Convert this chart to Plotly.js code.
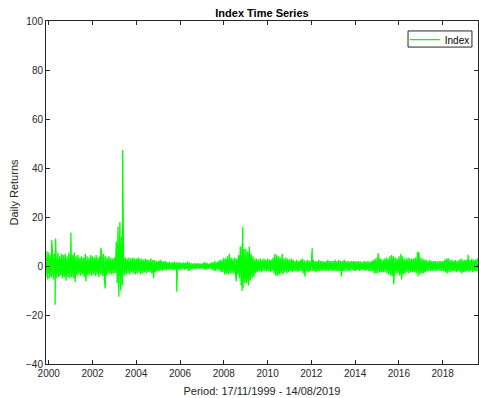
<!DOCTYPE html>
<html>
<head>
<meta charset="utf-8">
<script src="https://cdn.plot.ly/plotly-3.0.1.min.js"></script>
<style>
  html, body { margin: 0; padding: 0; background: #fff; }
  #chart { width: 479px; height: 398px; }
</style>
</head>
<body>
<div id="chart"></div>
<script>
// Monthly band (upper / lower daily-return envelope), Nov 1999 .. Aug 2019
const years = [1999,2000,2001,2002,2003,2004,2005,2006,2007,2008,2009,2010,2011,2012,2013,2014,2015,2016,2017,2018,2019];
const firstMonth = [11,1,1,1,1,1,1,1,1,1,1,1,1,1,1,1,1,1,1,1,1];

const bandHigh = [
  [5.5, 6.0],
  [5.5, 4.5, 6.0, 5.0, 4.5, 5.5, 4.0, 5.0, 4.5, 5.0, 4.0, 5.5],
  [5.0, 4.5, 5.5, 4.0, 4.5, 3.5, 4.0, 3.5, 5.0, 4.0, 3.5, 4.5],
  [4.0, 3.5, 4.5, 3.5, 4.0, 4.5, 5.0, 4.0, 3.5, 4.0, 3.5, 3.0],
  [3.5, 10.0, 16.0, 18.0, 12.0, 4.0, 3.5, 3.0, 3.5, 3.0, 3.5, 3.0],
  [3.0, 3.5, 3.0, 3.0, 2.5, 3.0, 2.5, 2.5, 3.0, 2.5, 2.5, 2.0],
  [2.0, 2.5, 2.0, 1.8, 2.0, 1.5, 1.8, 1.5, 1.5, 1.8, 1.5, 1.5],
  [1.5, 1.2, 1.5, 1.2, 1.8, 1.5, 1.2, 1.0, 1.2, 1.0, 1.2, 1.0],
  [1.0, 1.5, 1.5, 1.2, 1.0, 1.5, 1.5, 2.0, 1.5, 2.0, 2.5, 2.5],
  [3.5, 3.0, 4.0, 5.0, 3.5, 3.0, 3.5, 3.0, 4.5, 8.0, 9.0, 7.0],
  [7.0, 6.0, 8.0, 5.0, 4.0, 3.0, 3.0, 2.5, 3.0, 2.5, 3.0, 2.5],
  [3.0, 2.5, 2.5, 3.5, 5.0, 4.5, 4.0, 3.5, 5.0, 3.0, 3.5, 3.0],
  [2.5, 3.0, 2.5, 2.0, 2.5, 2.0, 2.5, 3.0, 2.5, 2.0, 2.5, 2.0],
  [2.0, 2.5, 2.0, 2.0, 2.5, 2.0, 2.0, 1.8, 2.0, 2.5, 2.0, 2.0],
  [2.0, 2.5, 2.0, 2.5, 2.0, 2.0, 2.5, 2.0, 2.0, 1.8, 2.0, 2.0],
  [2.0, 1.8, 2.0, 1.8, 1.5, 2.0, 1.8, 2.0, 1.8, 2.0, 2.5, 3.0],
  [3.5, 3.0, 3.0, 2.5, 3.0, 3.5, 3.0, 4.0, 4.5, 4.0, 3.5, 3.0],
  [4.0, 5.0, 4.0, 3.0, 3.0, 3.5, 3.0, 3.0, 3.0, 3.5, 4.0, 5.5],
  [3.5, 3.0, 2.5, 2.5, 2.0, 2.5, 2.0, 2.0, 2.0, 1.8, 2.0, 2.0],
  [2.0, 2.5, 3.0, 3.3, 2.5, 2.5, 2.0, 2.5, 2.0, 2.5, 3.0, 2.5],
  [2.5, 2.5, 4.6, 2.5, 3.0, 2.5, 2.5, 3.0]
];

const bandLow = [
  [-4.5, -5.5],
  [-5.0, -4.5, -5.5, -4.0, -5.0, -4.5, -4.0, -5.0, -4.5, -6.0, -4.5, -5.0],
  [-4.5, -5.0, -6.5, -4.0, -3.5, -4.0, -3.5, -4.5, -5.0, -4.0, -3.5, -4.0],
  [-3.5, -4.0, -3.5, -4.5, -3.5, -4.0, -5.5, -4.0, -3.5, -3.0, -3.5, -3.0],
  [-3.0, -7.0, -12.5, -10.0, -8.0, -4.0, -3.5, -3.0, -3.5, -2.5, -3.0, -3.5],
  [-3.0, -2.5, -3.5, -3.0, -2.5, -3.0, -2.5, -2.5, -3.0, -5.0, -2.5, -2.0],
  [-2.0, -1.8, -2.0, -1.5, -1.8, -1.5, -1.5, -1.5, -1.8, -1.5, -1.5, -1.5],
  [-1.5, -1.2, -1.5, -1.2, -2.0, -1.8, -1.2, -1.0, -1.2, -1.0, -1.2, -1.0],
  [-1.0, -1.5, -1.5, -1.2, -1.0, -1.5, -1.8, -2.0, -1.5, -1.8, -2.5, -2.5],
  [-3.5, -3.0, -3.5, -3.0, -3.0, -3.0, -4.0, -3.5, -5.0, -8.0, -9.0, -7.0],
  [-7.0, -8.0, -6.0, -5.0, -4.5, -3.0, -2.5, -2.0, -2.5, -2.0, -2.0, -2.0],
  [-2.0, -2.5, -2.0, -3.0, -4.0, -4.0, -3.5, -3.0, -3.5, -2.5, -3.0, -2.5],
  [-2.0, -2.5, -2.0, -2.0, -2.5, -2.0, -2.0, -3.0, -4.3, -2.0, -2.5, -2.0],
  [-2.0, -2.0, -2.5, -2.0, -2.0, -2.0, -1.8, -2.0, -2.0, -2.0, -1.5, -2.0],
  [-2.0, -2.0, -2.0, -2.0, -4.3, -2.0, -2.0, -1.8, -2.0, -1.8, -1.5, -2.0],
  [-2.0, -1.5, -2.0, -1.5, -1.5, -2.0, -1.8, -2.0, -2.0, -2.0, -3.0, -3.0],
  [-3.0, -2.5, -2.5, -2.5, -2.5, -3.0, -3.5, -4.0, -4.0, -3.5, -3.0, -3.0],
  [-4.0, -5.5, -3.5, -3.0, -2.5, -3.0, -2.5, -2.5, -2.5, -3.0, -4.3, -3.5],
  [-3.0, -3.0, -2.5, -2.0, -2.0, -2.0, -2.0, -1.8, -2.0, -1.8, -2.0, -2.0],
  [-2.0, -2.5, -3.0, -2.5, -2.5, -2.0, -2.0, -2.5, -2.0, -2.5, -3.0, -2.5],
  [-2.5, -2.0, -2.5, -2.0, -2.5, -2.0, -2.0, -2.5]
];

// Isolated spikes
const spikeDates = ['2000-02-20','2000-04-17','2000-04-25','2001-01-05','2001-09-14','2002-05-20','2002-08-01',
                    '2003-05-19','2005-11-08','2008-07-28','2008-11-03','2008-11-12','2012-01-16',
                    '2015-01-20','2015-10-06','2016-11-11'];
const spikeValues = [10.5, -15.8, 11.2, 13.6, -6.2, 7.5, -9.2,
                     47.3, -10.5, -6.2, -10.2, 15.9, 7.2,
                     5.2, -7.4, 5.8];

const xStart = '1999-11-17';
const xEnd = '2019-08-14';

// Build the series: each month contributes its high and low reading, spikes inserted in date order
function pad(n){ return (n < 10 ? '0' : '') + n; }
const pts = [];
years.forEach((yr, i) => {
  bandHigh[i].forEach((hv, j) => {
    const m = firstMonth[i] + j;
    pts.push([yr + '-' + pad(m) + '-03', hv]);
    pts.push([yr + '-' + pad(m) + '-17', bandLow[i][j]]);
  });
});
spikeDates.forEach((d, k) => pts.push([d, spikeValues[k]]));
pts.sort((a, b) => a[0] < b[0] ? -1 : (a[0] > b[0] ? 1 : 0));

const trace = {
  x: pts.map(p => p[0]),
  y: pts.map(p => p[1]),
  type: 'scatter',
  mode: 'lines',
  name: 'Index',
  line: { color: '#00ff00', width: 1.3, simplify: false }
};

const FONT = 'Liberation Sans, Arial, sans-serif';

const axisCommon = {
  showline: true,
  linecolor: '#262626',
  linewidth: 1,
  mirror: 'ticks',
  ticks: 'inside',
  ticklen: 4,
  tickcolor: '#262626',
  tickwidth: 1,
  showgrid: false,
  zeroline: false,
  tickfont: { family: FONT, size: 10, color: '#262626' }
};

const layout = {
  width: 479,
  height: 398,
  margin: { l: 46, r: 1, t: 21, b: 34 },
  paper_bgcolor: '#ffffff',
  plot_bgcolor: '#ffffff',
  title: {
    text: '<b>Index Time Series</b>',
    font: { family: FONT, size: 11, color: '#000000' },
    x: 0.5, xref: 'paper', xanchor: 'center',
    y: 1, yref: 'paper', yanchor: 'bottom', pad: { b: 4 }
  },
  xaxis: Object.assign({}, axisCommon, {
    type: 'date',
    range: [xStart, xEnd],
    tick0: '2000-01-01',
    dtick: 'M24',
    tickformat: '%Y',
    title: { text: 'Period: 17/11/1999 - 14/08/2019', standoff: 9,
             font: { family: FONT, size: 11, color: '#262626' } }
  }),
  yaxis: Object.assign({}, axisCommon, {
    range: [-40, 100],
    tick0: -40,
    dtick: 20,
    title: { text: 'Daily Returns', standoff: 5,
             font: { family: FONT, size: 11, color: '#262626' } }
  }),
  showlegend: true,
  legend: {
    x: 0.8305, xanchor: 'left', y: 0.988, yanchor: 'top',
    bgcolor: 'rgba(0,0,0,0)', borderwidth: 0,
    font: { family: FONT, size: 10, color: '#000000' },
    tracegroupgap: 0
  },
  shapes: [{
    type: 'rect', xref: 'paper', yref: 'paper', layer: 'below',
    x0: 0.838, x1: 0.986, y0: 0.924, y1: 0.971,
    line: { color: '#262626', width: 1 }, fillcolor: '#ffffff'
  }]
};

Plotly.newPlot('chart', [trace], layout, { displayModeBar: false, staticPlot: true });
</script>
</body>
</html>
